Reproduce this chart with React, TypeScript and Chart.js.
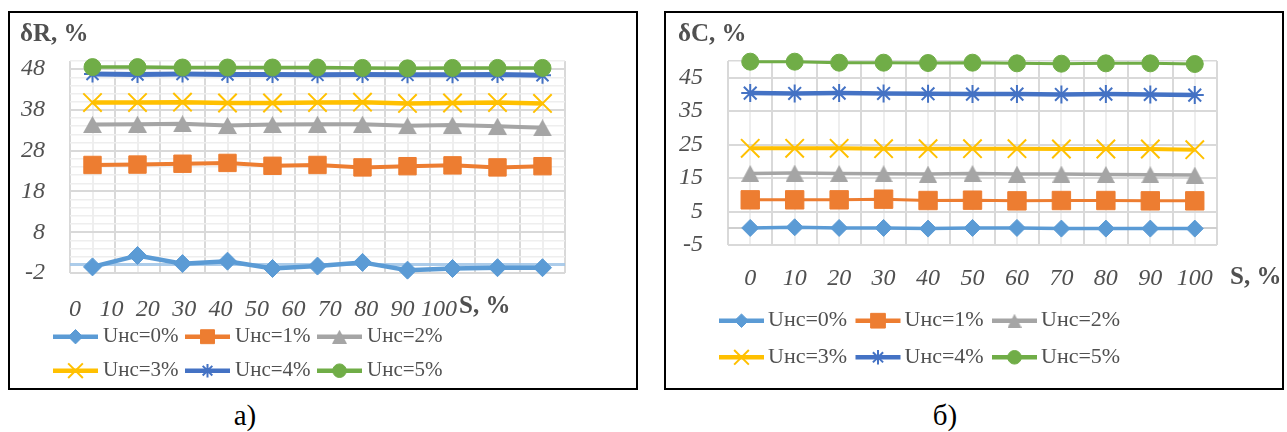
import React, { useEffect, useRef } from 'react';
import { Chart, registerables } from 'chart.js';
import { drawPoint } from 'chart.js/helpers';

Chart.register(...registerables);

// ---------------- data ----------------
const S_VALUES = [0, 10, 20, 30, 40, 50, 60, 70, 80, 90, 100];
const SERIES_LABELS = ['Uнс=0%', 'Uнс=1%', 'Uнс=2%', 'Uнс=3%', 'Uнс=4%', 'Uнс=5%'];

// δR, %
const DR_U0 = [-0.5, 2.3, 0.3, 0.9, -0.9, -0.3, 0.6, -1.3, -0.9, -0.7, -0.7];
const DR_U1 = [24.5, 24.6, 24.8, 25.0, 24.3, 24.5, 23.9, 24.2, 24.4, 23.9, 24.2];
const DR_U2 = [34.4, 34.5, 34.6, 34.2, 34.4, 34.5, 34.5, 34.1, 34.3, 34.0, 33.6];
const DR_U3 = [39.8, 39.8, 39.9, 39.7, 39.7, 39.8, 39.9, 39.6, 39.7, 39.8, 39.6];
const DR_U4 = [46.8, 46.7, 46.8, 46.7, 46.7, 46.6, 46.7, 46.6, 46.6, 46.7, 46.5];
const DR_U5 = [48.5, 48.5, 48.4, 48.4, 48.4, 48.4, 48.3, 48.2, 48.3, 48.3, 48.3];

// δC, %
const DC_U0 = [0.1, 0.3, 0.1, 0.1, -0.1, 0.1, 0.1, -0.1, -0.1, -0.1, -0.1];
const DC_U1 = [8.5, 8.5, 8.5, 8.7, 8.3, 8.4, 8.2, 8.3, 8.3, 8.2, 8.2];
const DC_U2 = [16.4, 16.5, 16.4, 16.3, 16.2, 16.4, 16.2, 16.2, 16.1, 16.0, 15.9];
const DC_U3 = [23.9, 23.9, 23.9, 23.8, 23.8, 23.8, 23.8, 23.7, 23.7, 23.7, 23.5];
const DC_U4 = [40.4, 40.3, 40.4, 40.3, 40.2, 40.1, 40.1, 40.0, 40.1, 40.0, 39.8];
const DC_U5 = [49.8, 49.8, 49.5, 49.5, 49.4, 49.5, 49.3, 49.2, 49.3, 49.3, 49.1];

// axis ticks
const R_Y_LABELED = [-2, 8, 18, 28, 38, 48];
const R_Y_GRID = [-2, 0, 2, 4, 6, 8, 10, 12, 14, 16, 18, 20, 22, 24, 26, 28, 30, 32, 34, 36, 38, 40, 42, 44, 46, 48, 50];
const C_Y_LABELED = [-5, 5, 15, 25, 35, 45];
const C_Y_GRID = [-5, 0, 5, 15, 25, 35, 45, 50];
const X_BOUNDS = [-5, 5, 15, 25, 35, 45, 55, 65, 75, 85, 95, 105];

// ---------------- styles ----------------
const FAMILY = 'Liberation Serif';
const TEXT_COLOR = '#505050';
const MAJOR = '#d9d9d9';
const MINOR = '#eeeeee';
const SERIES_COLORS = ['#5B9BD5', '#ED7D31', '#A5A5A5', '#FFC000', '#4472C4', '#70AD47'];
const POINT_STYLES = ['rectRot', 'rect', 'triangle', 'crossRot', 'star', 'circle'];

function makeTriangle(w: number, h: number, color: string) {
  const c = document.createElement('canvas');
  c.width = w;
  c.height = h;
  const g = c.getContext('2d')!;
  g.fillStyle = color;
  g.beginPath();
  g.moveTo(w / 2, 0);
  g.lineTo(w, h);
  g.lineTo(0, h);
  g.closePath();
  g.fill();
  return c;
}

type LegendSpec = {
  x: number; y: number; cols: number; colWidth: number; rowHeight: number;
  sample: number; textGap: number; lineWidth: number; markerScale: number; fontSize: number;
};
type TextItem = { text: string; x: number; y: number; size: number; bold: boolean };

function makeLegendPlugin(lg: LegendSpec, legendStyles: any[]) {
  return {
    id: 'excelLegend',
    afterDraw(chart: any) {
      const ctx = chart.ctx;
      ctx.save();
      chart.data.datasets.forEach((ds: any, i: number) => {
        const col = i % lg.cols;
        const row = Math.floor(i / lg.cols);
        const x0 = lg.x + col * lg.colWidth;
        const y = lg.y + row * lg.rowHeight;
        ctx.strokeStyle = ds.borderColor;
        ctx.lineWidth = lg.lineWidth;
        ctx.lineCap = 'butt';
        ctx.beginPath();
        ctx.moveTo(x0, y);
        ctx.lineTo(x0 + lg.sample, y);
        ctx.stroke();
        ctx.fillStyle = ds.pointBackgroundColor;
        ctx.strokeStyle = ds.pointBorderColor;
        ctx.lineWidth = ds.pointBorderWidth;
        drawPoint(
          ctx,
          {
            pointStyle: legendStyles[i],
            radius: ds.pointRadius * lg.markerScale,
            borderWidth: ds.pointBorderWidth,
            rotation: 0,
          } as any,
          x0 + lg.sample / 2,
          y
        );
        ctx.fillStyle = TEXT_COLOR;
        ctx.font = `${lg.fontSize}px "${FAMILY}", serif`;
        ctx.textAlign = 'left';
        ctx.textBaseline = 'middle';
        ctx.fillText(ds.label, x0 + lg.textGap, y);
      });
      ctx.restore();
    },
  };
}

function makeTextPlugin(items: TextItem[]) {
  return {
    id: 'axisTexts',
    afterDraw(chart: any) {
      const ctx = chart.ctx;
      ctx.save();
      items.forEach((it) => {
        ctx.font = `${it.bold ? 'bold ' : ''}${it.size}px "${FAMILY}", serif`;
        ctx.fillStyle = TEXT_COLOR;
        ctx.textAlign = 'left';
        ctx.textBaseline = 'middle';
        ctx.fillText(it.text, it.x, it.y);
      });
      ctx.restore();
    },
  };
}

type Spec = {
  series: number[][];
  yMin: number;
  yMax: number;
  yGrid: number[];
  yLabeled: number[];
  zeroColor: string;
  zeroWidth: number;
  minorY: boolean;
  lineWidths: number[];
  radii: number[];
  tri: [number, number];
  canvas: { left: number; top: number; w: number; h: number };
  padding: { left: number; top: number; right: number; bottom: number };
  yWidth: number;
  xHeight: number;
  xPad: number;
  yPad: number;
  tickSize: number;
  labelAxis: null | { min: number; max: number };
  legend: LegendSpec;
  texts: TextItem[];
};

function buildConfig(spec: Spec): any {
  const legendStyles: any[] = [];
  const datasets = spec.series.map((vals, i) => {
    const isTri = POINT_STYLES[i] === 'triangle';
    const stroked = POINT_STYLES[i] === 'crossRot' || POINT_STYLES[i] === 'star';
    legendStyles.push(
      isTri
        ? makeTriangle(Math.round(spec.tri[0] * spec.legend.markerScale), Math.round(spec.tri[1] * spec.legend.markerScale), SERIES_COLORS[i])
        : POINT_STYLES[i]
    );
    return {
      label: SERIES_LABELS[i],
      data: S_VALUES.map((s, j) => ({ x: s, y: vals[j] })),
      borderColor: SERIES_COLORS[i],
      backgroundColor: SERIES_COLORS[i],
      borderWidth: spec.lineWidths[i],
      pointStyle: isTri ? makeTriangle(spec.tri[0], spec.tri[1], SERIES_COLORS[i]) : POINT_STYLES[i],
      pointRadius: spec.radii[i],
      pointBorderWidth: stroked ? 2 : 1,
      pointBackgroundColor: SERIES_COLORS[i],
      pointBorderColor: SERIES_COLORS[i],
      tension: 0,
      fill: false,
      clip: false,
      order: 5 - i,
    };
  });

  const tickFont = { family: FAMILY, size: spec.tickSize, style: 'italic' as const };

  const scales: any = {
    x: {
      type: 'linear',
      position: 'bottom',
      min: -5,
      max: 105,
      afterBuildTicks: (s: any) => {
        s.ticks = [...X_BOUNDS, ...S_VALUES].sort((a, b) => a - b).map((v) => ({ value: v }));
      },
      afterFit: (s: any) => {
        s.height = spec.labelAxis ? 0 : spec.xHeight;
      },
      border: { display: false },
      grid: {
        drawTicks: false,
        color: (c: any) => (S_VALUES.includes(c.tick.value) ? MINOR : MAJOR),
        lineWidth: 2,
      },
      ticks: {
        display: !spec.labelAxis,
        autoSkip: false,
        maxRotation: 0,
        minRotation: 0,
        padding: spec.xPad,
        color: TEXT_COLOR,
        font: tickFont,
        callback: (v: number) => (S_VALUES.includes(v) ? String(v) : ''),
      },
    },
    y: {
      type: 'linear',
      min: spec.yMin,
      max: spec.yMax,
      afterBuildTicks: (s: any) => {
        s.ticks = spec.yGrid.map((v) => ({ value: v }));
      },
      afterFit: (s: any) => {
        s.width = spec.yWidth;
      },
      border: { display: false },
      grid: {
        drawTicks: false,
        color: (c: any) => {
          const v = c.tick.value;
          if (v === 0) return spec.zeroColor;
          if (spec.yLabeled.includes(v)) return MAJOR;
          return spec.minorY ? MINOR : MAJOR;
        },
        lineWidth: (c: any) => (c.tick.value === 0 ? spec.zeroWidth : spec.yLabeled.includes(c.tick.value) ? 2 : 1.5),
      },
      ticks: {
        autoSkip: false,
        padding: spec.yPad,
        color: TEXT_COLOR,
        font: tickFont,
        callback: (v: number) => (spec.yLabeled.includes(v) ? String(v) : ''),
      },
    },
  };

  if (spec.labelAxis) {
    scales.xl = {
      type: 'linear',
      position: 'bottom',
      min: spec.labelAxis.min,
      max: spec.labelAxis.max,
      afterBuildTicks: (s: any) => {
        s.ticks = S_VALUES.map((v) => ({ value: v }));
      },
      afterFit: (s: any) => {
        s.height = spec.xHeight;
      },
      border: { display: false },
      grid: { display: false, drawTicks: false },
      ticks: {
        autoSkip: false,
        maxRotation: 0,
        minRotation: 0,
        padding: spec.xPad,
        color: TEXT_COLOR,
        font: tickFont,
        callback: (v: number) => String(v),
      },
    };
  }

  return {
    type: 'line',
    data: { datasets },
    options: {
      animation: false,
      responsive: false,
      maintainAspectRatio: false,
      events: [],
      font: { family: FAMILY },
      layout: { padding: spec.padding },
      plugins: {
        legend: { display: false },
        tooltip: { enabled: false },
        title: { display: false },
      },
      scales,
    },
    plugins: [makeLegendPlugin(spec.legend, legendStyles), makeTextPlugin(spec.texts)],
  };
}

const SPEC_R: Spec = {
  series: [DR_U0, DR_U1, DR_U2, DR_U3, DR_U4, DR_U5],
  yMin: -2,
  yMax: 50,
  yGrid: R_Y_GRID,
  yLabeled: R_Y_LABELED,
  zeroColor: 'rgba(157,195,230,0.85)',
  zeroWidth: 3,
  minorY: true,
  lineWidths: [4.5, 4, 4, 4.5, 5, 3.5],
  radii: [9, 12.3, 10, 13, 8.5, 8.5],
  tri: [19, 17],
  canvas: { left: 10, top: 13, w: 626, h: 375 },
  padding: { left: 0, top: 48, right: 71, bottom: 65 },
  yWidth: 60,
  xHeight: 50,
  xPad: 22,
  yPad: 25,
  tickSize: 24,
  labelAxis: { min: -1.374, max: 134.62 },
  legend: {
    x: 43, y: 323.7, cols: 3, colWidth: 132, rowHeight: 34,
    sample: 45, textGap: 50, lineWidth: 4.5, markerScale: 0.8, fontSize: 21,
  },
  texts: [
    { text: 'δR, %', x: 10, y: 22, size: 25, bold: true },
    { text: 'S, %', x: 449, y: 294, size: 25, bold: true },
  ],
};

const SPEC_C: Spec = {
  series: [DC_U0, DC_U1, DC_U2, DC_U3, DC_U4, DC_U5],
  yMin: -5,
  yMax: 50,
  yGrid: C_Y_GRID,
  yLabeled: C_Y_LABELED,
  zeroColor: '#cfcfcf',
  zeroWidth: 2,
  minorY: false,
  lineWidths: [3.5, 3, 3.5, 4, 4.5, 3],
  radii: [8.5, 13, 10, 13, 9, 8.5],
  tri: [18, 17],
  canvas: { left: 666, top: 13, w: 616, h: 375 },
  padding: { left: 0, top: 48, right: 65, bottom: 93 },
  yWidth: 62,
  xHeight: 50,
  xPad: 19,
  yPad: 25,
  tickSize: 24,
  labelAxis: null,
  legend: {
    x: 53, y: 307.7, cols: 3, colWidth: 136.5, rowHeight: 36.6,
    sample: 45, textGap: 49, lineWidth: 4.5, markerScale: 0.8, fontSize: 22,
  },
  texts: [
    { text: 'δC, %', x: 12, y: 22, size: 25, bold: true },
    { text: 'S, %', x: 564, y: 265, size: 25, bold: true },
  ],
};

function Panel({ spec }: { spec: Spec }) {
  const ref = useRef<HTMLCanvasElement>(null);
  useEffect(() => {
    const chart = new Chart(ref.current as HTMLCanvasElement, buildConfig(spec));
    return () => chart.destroy();
  }, [spec]);
  const c = spec.canvas;
  return (
    <canvas
      ref={ref}
      width={c.w}
      height={c.h}
      style={{ position: 'absolute', left: c.left, top: c.top, width: c.w, height: c.h }}
    />
  );
}

export default function App() {
  const boxStyle = (left: number, width: number): React.CSSProperties => ({
    position: 'absolute',
    left,
    top: 11,
    width,
    height: 379,
    border: '2px solid #000',
    boxSizing: 'border-box',
  });
  const capStyle = (cx: number): React.CSSProperties => ({
    position: 'absolute',
    left: cx - 50,
    top: 399,
    width: 100,
    textAlign: 'center',
    fontFamily: `"${FAMILY}", serif`,
    fontSize: 29,
    lineHeight: '32px',
    color: '#000',
  });
  return (
    <div style={{ position: 'absolute', left: 0, top: 0, width: 1287, height: 432, background: '#fff', overflow: 'hidden' }}>
      <div style={boxStyle(8, 630)} />
      <div style={boxStyle(664, 620)} />
      <Panel spec={SPEC_R} />
      <Panel spec={SPEC_C} />
      <div style={capStyle(245)}>а)</div>
      <div style={capStyle(945)}>б)</div>
    </div>
  );
}
